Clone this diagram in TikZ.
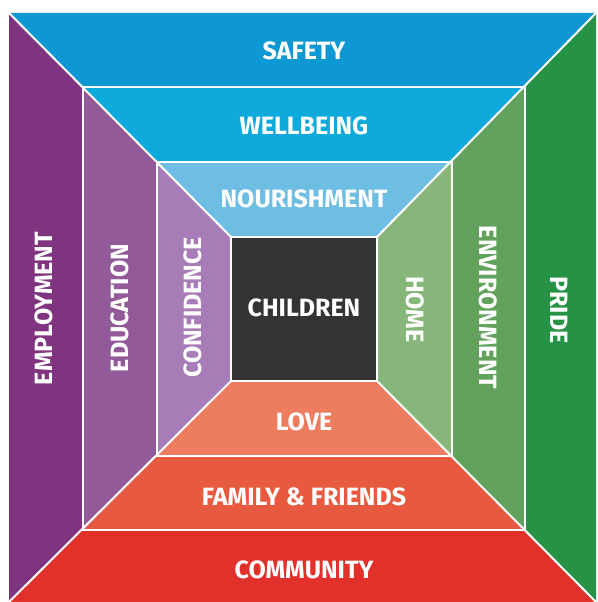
\documentclass[tikz,border=0pt]{standalone}
\usepackage{fontspec}
\setmainfont{Fira Sans}
\definecolor{csafety}{RGB}{14,152,211}
\definecolor{cwell}{RGB}{15,170,220}
\definecolor{cnour}{RGB}{110,190,228}
\definecolor{cemp}{RGB}{128,52,128}
\definecolor{cedu}{RGB}{146,90,152}
\definecolor{cconf}{RGB}{168,124,182}
\definecolor{cpride}{RGB}{38,146,70}
\definecolor{cenv}{RGB}{98,162,92}
\definecolor{chome}{RGB}{134,182,122}
\definecolor{ccomm}{RGB}{226,48,42}
\definecolor{cfam}{RGB}{232,90,64}
\definecolor{clove}{RGB}{238,124,94}
\definecolor{cchild}{RGB}{51,51,51}
\begin{document}
\begin{tikzpicture}[x=1pt,y=-1pt,
  lbl/.style={text=white,font=\fontsize{25}{26}\selectfont\bfseries,inner sep=0pt},
  sepline/.style={draw=white,line width=2pt}]
\useasboundingbox (0,0) rectangle (597,602);
\coordinate (A1) at (9,13);   \coordinate (B1) at (596,13);  \coordinate (C1) at (596,602); \coordinate (D1) at (9,602);
\coordinate (A2) at (83,87);  \coordinate (B2) at (525,87);  \coordinate (C2) at (525,530); \coordinate (D2) at (83,530);
\coordinate (A3) at (157,162);\coordinate (B3) at (452,162); \coordinate (C3) at (452,456); \coordinate (D3) at (157,456);
\coordinate (A4) at (231,237);\coordinate (B4) at (377,237); \coordinate (C4) at (377,381); \coordinate (D4) at (231,381);
% outer ring
\fill[csafety] (A1) -- (B1) -- (B2) -- (A2) -- cycle;
\fill[cpride]  (B1) -- (C1) -- (C2) -- (B2) -- cycle;
\fill[ccomm]   (D1) -- (C1) -- (C2) -- (D2) -- cycle;
\fill[cemp]    (A1) -- (D1) -- (D2) -- (A2) -- cycle;
% middle ring
\fill[cwell] (A2) -- (B2) -- (B3) -- (A3) -- cycle;
\fill[cenv]  (B2) -- (C2) -- (C3) -- (B3) -- cycle;
\fill[cfam]  (D2) -- (C2) -- (C3) -- (D3) -- cycle;
\fill[cedu]  (A2) -- (D2) -- (D3) -- (A3) -- cycle;
% inner ring
\fill[cnour] (A3) -- (B3) -- (B4) -- (A4) -- cycle;
\fill[chome] (B3) -- (C3) -- (C4) -- (B4) -- cycle;
\fill[clove] (D3) -- (C3) -- (C4) -- (D4) -- cycle;
\fill[cconf] (A3) -- (D3) -- (D4) -- (A4) -- cycle;
% centre
\fill[cchild] (A4) rectangle (C4);
% separators
\draw[sepline] (A2) rectangle (C2);
\draw[sepline] (A3) rectangle (C3);
\draw[sepline] (A4) rectangle (C4);
\draw[sepline] (A1) -- (A4);
\draw[sepline] (B1) -- (B4);
\draw[sepline] (C1) -- (C4);
\draw[sepline] (D1) -- (D4);
% labels
\node[lbl] (safety) at (304,51) {SAFETY};
\node[lbl] (wellbeing) at (304,126) {WELLBEING};
\node[lbl] (nourishment) at (304,199) {NOURISHMENT};
\node[lbl] (children) at (304,308) {CHILDREN};
\node[lbl] (love) at (304,422) {LOVE};
\node[lbl] (family) at (304,496.5) {FAMILY \& FRIENDS};
\node[lbl] (community) at (304,570) {COMMUNITY};
\node[lbl,rotate=90] (employment) at (44,308.5) {EMPLOYMENT};
\node[lbl,rotate=90] (education) at (120,308) {EDUCATION};
\node[lbl,rotate=90] (confidence) at (193,307.5) {CONFIDENCE};
\node[lbl,rotate=-90] (home) at (415,309.5) {HOME};
\node[lbl,rotate=-90] (environment) at (488.5,307.5) {ENVIRONMENT};
\node[lbl,rotate=-90] (pride) at (559.5,310) {PRIDE};
\end{tikzpicture}
\end{document}
